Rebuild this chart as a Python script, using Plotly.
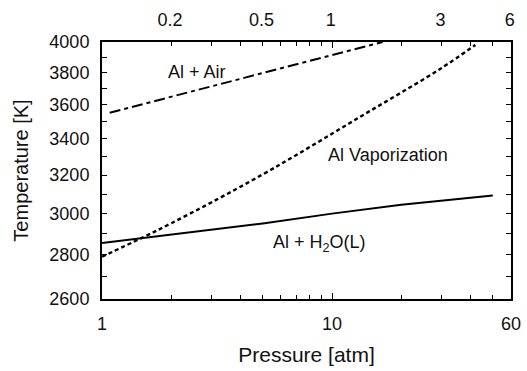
import math
import plotly.graph_objects as go

# Data
air_p = [1.08, 2, 3, 5, 10, 16.6]
air_t = [3553, 3649, 3714, 3797, 3913, 4000]

vap_p = [1, 1.5, 2, 3, 5, 7, 10, 14, 20, 30, 42]
vap_t = [2791, 2882, 2952, 3058, 3204, 3310, 3430, 3548, 3675, 3830, 3980]

h2o_p = [1, 2, 5, 10, 20, 50]
h2o_t = [2856, 2897, 2951, 3000, 3045, 3093]

x_tickvals = [1, 10, 60]
x_ticktext = ["1", "10", "60"]
x_minorvals = [2, 3, 4, 5, 6, 7, 8, 9, 20, 30, 40, 50]
y_tickvals = [2600, 2800, 3000, 3200, 3400, 3600, 3800, 4000]
y_ticktext = [str(v) for v in y_tickvals]
y_minorvals = [2700, 2900, 3100, 3300, 3500, 3700, 3900]
top_tickvals = [0.2, 0.5, 1, 3, 6]
top_ticktext = ["0.2", "0.5", "1", "3", "6"]
ATM_TO_MPA = 0.101325

FONT = "Liberation Sans, Arial, sans-serif"
INK = "#111"

fig = go.Figure()
fig.add_trace(go.Scatter(x=air_p, y=air_t, mode="lines",
                         line=dict(color="black", width=2, dash="11px,4px,4px,4px"),
                         showlegend=False))
fig.add_trace(go.Scatter(x=vap_p, y=vap_t, mode="lines", line_shape="spline",
                         line=dict(color="black", width=2.4, dash="4px,3px"),
                         showlegend=False))
fig.add_trace(go.Scatter(x=h2o_p, y=h2o_t, mode="lines",
                         line=dict(color="black", width=2),
                         showlegend=False))
# invisible trace for the top axis
fig.add_trace(go.Scatter(x=[1 * ATM_TO_MPA, 60 * ATM_TO_MPA], y=[3000, 3000],
                         xaxis="x2", mode="lines", line=dict(width=0),
                         hoverinfo="skip", showlegend=False))

fig.update_layout(
    width=527, height=371,
    margin=dict(l=102, r=16, t=42, b=72, autoexpand=False),
    paper_bgcolor="white", plot_bgcolor="white",
    font=dict(family=FONT, size=18, color=INK),
    xaxis=dict(
        type="log", range=[0, math.log10(60)], automargin=False,
        tickmode="array", tickvals=x_tickvals, ticktext=x_ticktext,
        ticks="inside", ticklen=6, tickwidth=1.3, tickcolor="black",
        minor=dict(tickmode="array", tickvals=x_minorvals, ticks="inside",
                   ticklen=4, tickwidth=1.3, tickcolor="black", showgrid=False),
        showline=True, linecolor="black", linewidth=2, mirror="ticks",
        showgrid=False, zeroline=False, ticklabelstandoff=7,
        tickfont=dict(size=18, color=INK),
        title=dict(text="Pressure [atm]", font=dict(size=21, color=INK), standoff=15),
    ),
    xaxis2=dict(
        type="log", overlaying="x", side="top", automargin=False,
        range=[math.log10(1 * ATM_TO_MPA), math.log10(60 * ATM_TO_MPA)],
        tickmode="array", tickvals=top_tickvals, ticktext=top_ticktext,
        ticks="", showline=False, showgrid=False, zeroline=False,
        ticklabelstandoff=11,
        tickfont=dict(size=18, color=INK),
    ),
    yaxis=dict(
        type="log", range=[math.log10(2600), math.log10(4000)], automargin=False,
        tickmode="array", tickvals=y_tickvals, ticktext=y_ticktext,
        ticks="inside", ticklen=5, tickwidth=1.3, tickcolor="black",
        minor=dict(tickmode="array", tickvals=y_minorvals, ticks="inside",
                   ticklen=5, tickwidth=1.3, tickcolor="black", showgrid=False),
        showline=True, linecolor="black", linewidth=2, mirror="ticks",
        showgrid=False, zeroline=False, ticklabelstandoff=7,
        tickfont=dict(size=18, color=INK),
        title=dict(text="Temperature [K]", font=dict(size=20, color=INK), standoff=15),
    ),
    annotations=[
        dict(text="Al + Air", x=0.2315, y=0.8835, xref="paper", yref="paper",
             xanchor="center", yanchor="middle",
             showarrow=False, font=dict(size=18, color=INK)),
        dict(text="Al Vaporization", x=0.699, y=0.560, xref="paper", yref="paper",
             xanchor="center", yanchor="middle",
             showarrow=False, font=dict(size=18, color=INK)),
        dict(text="Al + H<sub>2</sub>O(L)", x=0.531, y=0.215, xref="paper", yref="paper",
             xanchor="center", yanchor="middle",
             showarrow=False, font=dict(size=18, color=INK)),
    ],
)

fig.write_html("out.html")
